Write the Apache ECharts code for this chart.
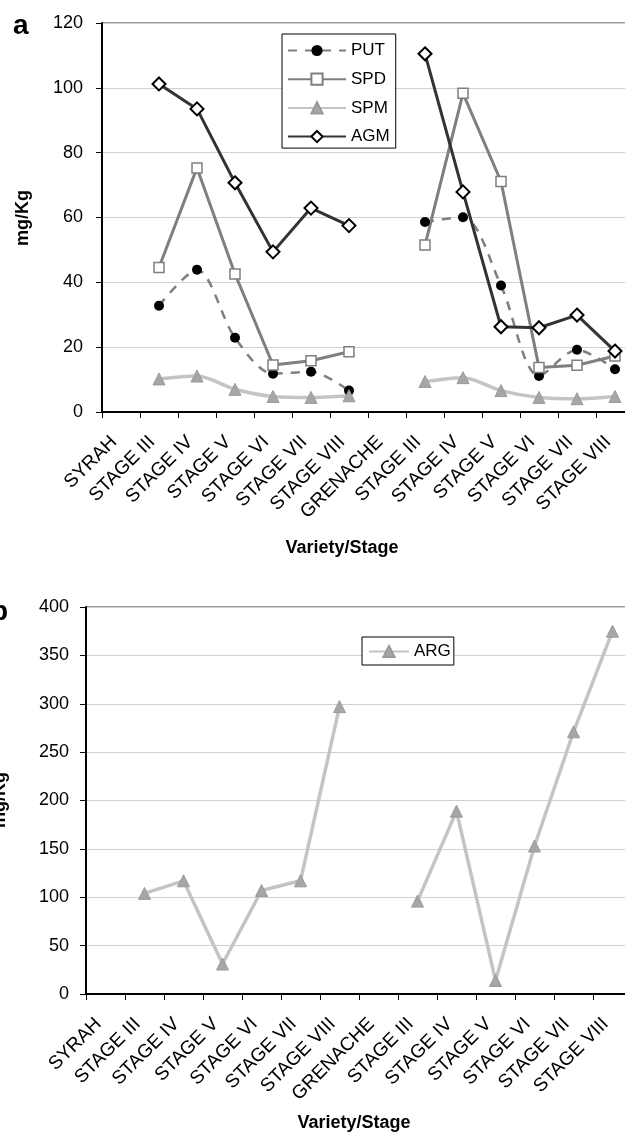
<!DOCTYPE html>
<html>
<head>
<meta charset="utf-8">
<script src="https://cdn.jsdelivr.net/npm/echarts@6/dist/echarts.min.js"></script>
<style>
html,body{margin:0;padding:0;background:#fff;}
#chart{width:625px;height:1133px;}
</style>
</head>
<body>
<div id="chart"></div>
<script>
const categories = ['SYRAH','STAGE III','STAGE IV','STAGE V','STAGE VI','STAGE VII','STAGE VIII','GRENACHE','STAGE III','STAGE IV','STAGE V','STAGE VI','STAGE VII','STAGE VIII'];
const yTicksA = [0, 20, 40, 60, 80, 100, 120];
const yTicksB = [0, 50, 100, 150, 200, 250, 300, 350, 400];
const putValues = [null, 32.8, 43.9, 22.9, 11.8, 12.4, 6.6, null, 58.6, 60.1, 39.0, 11.1, 19.2, 13.2];
const spdValues = [null, 44.6, 75.3, 42.6, 14.5, 15.8, 18.6, null, 51.5, 98.3, 71.1, 13.7, 14.4, 17.3];
const spmValues = [null, 10.2, 11.1, 7.0, 4.8, 4.5, 5.0, null, 9.4, 10.6, 6.6, 4.5, 4.1, 4.8];
const agmValues = [null, 101.2, 93.5, 70.7, 49.4, 62.9, 57.5, null, 110.5, 67.9, 26.3, 26.0, 29.9, 18.8];
const argValues = [null, 104, 117, 31, 107, 117, 297, null, 96, 189, 14, 153, 271, 375];

const FONT = 'Liberation Sans, Arial, sans-serif';
const chart = echarts.init(document.getElementById('chart'), null, {renderer: 'canvas'});

function xAxisCfg(gridIndex) {
  return {
    type: 'category', gridIndex: gridIndex, data: categories, boundaryGap: true,
    axisLine: {show: true, lineStyle: {color: '#000', width: 2}},
    axisTick: {show: true, length: 6, lineStyle: {color: '#000', width: 1}, interval: 0},
    axisLabel: {interval: 0, rotate: 45, margin: 20, fontSize: 19, color: '#000', fontFamily: FONT, padding: [0, 10, 0, 0]},
    splitLine: {show: false}
  };
}
function yAxisCfg(gridIndex, ticks, margin) {
  return {
    type: 'value', gridIndex: gridIndex, min: ticks[0], max: ticks[ticks.length - 1],
    interval: ticks[1] - ticks[0],
    axisLine: {show: true, lineStyle: {color: '#000', width: 2}},
    axisTick: {show: true, length: 6, lineStyle: {color: '#000', width: 1}},
    axisLabel: {fontSize: 18, color: '#000', fontFamily: FONT, margin: margin},
    splitLine: {show: true, lineStyle: {color: '#d0d0d0', width: 1.2}}
  };
}

const option = {
  backgroundColor: '#fff',
  animation: false,
  textStyle: {fontFamily: FONT},
  grid: [
    {left: 102, right: -9, top: 23, height: 389, show: true, borderColor: '#333', borderWidth: 1, backgroundColor: 'transparent', outerBoundsMode: 'none', containLabel: false},
    {left: 86, right: -7, top: 607, height: 387, show: true, borderColor: '#333', borderWidth: 1, backgroundColor: 'transparent', outerBoundsMode: 'none', containLabel: false}
  ],
  xAxis: [xAxisCfg(0), xAxisCfg(1)],
  yAxis: [yAxisCfg(0, yTicksA, 19), yAxisCfg(1, yTicksB, 17)],
  legend: [
    {
      data: ['PUT', 'SPD', 'SPM', 'AGM'], orient: 'vertical', left: 282, top: 34,
      padding: [8, 6, 3, 5], itemGap: 11.7, itemWidth: 58, itemHeight: 14,
      borderColor: '#000', borderWidth: 1, backgroundColor: '#fff',
      textStyle: {fontSize: 17, color: '#000', fontFamily: FONT}
    },
    {
      data: ['ARG'], orient: 'vertical', left: 362, top: 637,
      padding: [6, 3, 5, 6], itemWidth: 40, itemHeight: 14,
      borderColor: '#000', borderWidth: 1, backgroundColor: '#fff',
      textStyle: {fontSize: 17, color: '#000', fontFamily: FONT}
    }
  ],
  series: [
    {
      name: 'PUT', type: 'line', xAxisIndex: 0, yAxisIndex: 0, data: putValues,
      smooth: 0.3, connectNulls: false,
      symbol: 'circle', symbolSize: 10,
      lineStyle: {color: '#7f7f7f', width: 2.5, type: [9, 8]},
      itemStyle: {color: '#000', borderColor: '#000', borderWidth: 0}
    },
    {
      name: 'SPD', type: 'line', xAxisIndex: 0, yAxisIndex: 0, data: spdValues,
      connectNulls: false,
      symbol: 'rect', symbolSize: 10,
      lineStyle: {color: '#7f7f7f', width: 3},
      itemStyle: {color: '#fff', borderColor: '#7f7f7f', borderWidth: 1.5}
    },
    {
      name: 'SPM', type: 'line', xAxisIndex: 0, yAxisIndex: 0, data: spmValues,
      smooth: 0.3, connectNulls: false,
      symbol: 'triangle', symbolSize: 12,
      lineStyle: {color: '#c4c4c4', width: 3.5},
      itemStyle: {color: '#a6a6a6', borderColor: '#9a9a9a', borderWidth: 1}
    },
    {
      name: 'AGM', type: 'line', xAxisIndex: 0, yAxisIndex: 0, data: agmValues,
      connectNulls: false,
      symbol: 'diamond', symbolSize: 13,
      lineStyle: {color: '#333', width: 3},
      itemStyle: {color: '#fff', borderColor: '#000', borderWidth: 2}
    },
    {
      name: 'ARG', type: 'line', xAxisIndex: 1, yAxisIndex: 1, data: argValues,
      connectNulls: false,
      symbol: 'triangle', symbolSize: 12,
      lineStyle: {color: '#c4c4c4', width: 3.5},
      itemStyle: {color: '#a6a6a6', borderColor: '#9a9a9a', borderWidth: 1}
    }
  ],
  graphic: [
    {type: 'text', x: 13, y: 26, style: {text: 'a', font: 'bold 28px ' + FONT, fill: '#000', align: 'left', verticalAlign: 'middle'}},
    {type: 'text', x: 8, y: 612, style: {text: 'b', font: 'bold 28px ' + FONT, fill: '#000', align: 'right', verticalAlign: 'middle'}},
    {type: 'text', x: 23, y: 218, rotation: Math.PI / 2, style: {text: 'mg/Kg', font: 'bold 18px ' + FONT, fill: '#000', align: 'center', verticalAlign: 'middle'}},
    {type: 'text', x: 0, y: 800, rotation: Math.PI / 2, style: {text: 'mg/Kg', font: 'bold 18px ' + FONT, fill: '#000', align: 'center', verticalAlign: 'middle'}},
    {type: 'text', x: 342, y: 548, style: {text: 'Variety/Stage', font: 'bold 18px ' + FONT, fill: '#000', align: 'center', verticalAlign: 'middle'}},
    {type: 'text', x: 354, y: 1123, style: {text: 'Variety/Stage', font: 'bold 18px ' + FONT, fill: '#000', align: 'center', verticalAlign: 'middle'}}
  ]
};
chart.setOption(option);
</script>
</body>
</html>
